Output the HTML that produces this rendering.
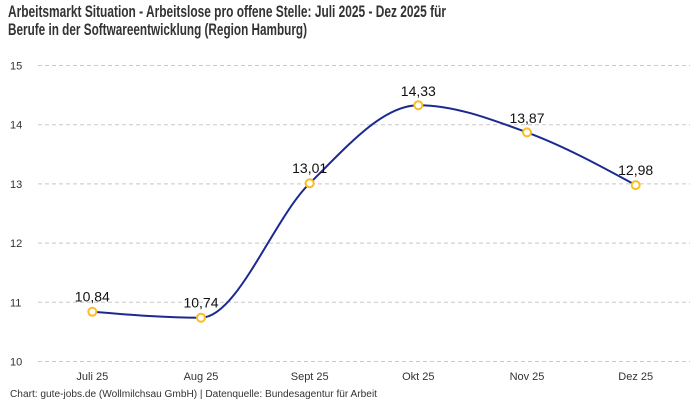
<!DOCTYPE html>
<html>
<head>
<meta charset="utf-8">
<style>
html,body{margin:0;padding:0;background:#fff;}
svg{display:block;}
text{font-family:"Liberation Sans",sans-serif;}
</style>
</head>
<body>
<svg width="700" height="400" viewBox="0 0 700 400" xmlns="http://www.w3.org/2000/svg">
<rect width="700" height="400" fill="#fff"/>
<!-- Title -->
<text x="8" y="17" font-size="17" font-weight="bold" fill="#333" textLength="438" lengthAdjust="spacingAndGlyphs">Arbeitsmarkt Situation - Arbeitslose pro offene Stelle: Juli 2025 - Dez 2025 für</text>
<text x="8" y="35" font-size="17" font-weight="bold" fill="#333" textLength="299" lengthAdjust="spacingAndGlyphs">Berufe in der Softwareentwicklung (Region Hamburg)</text>

<!-- Grid -->
<g stroke="#c8c8c8" stroke-width="1" stroke-dasharray="4,3">
<line x1="38" y1="65.5" x2="690" y2="65.5"/>
<line x1="38" y1="124.7" x2="690" y2="124.7"/>
<line x1="38" y1="183.9" x2="690" y2="183.9"/>
<line x1="38" y1="243.1" x2="690" y2="243.1"/>
<line x1="38" y1="302.3" x2="690" y2="302.3"/>
<line x1="38" y1="361.5" x2="690" y2="361.5"/>
</g>

<!-- Y labels -->
<g font-size="11" fill="#333">
<text x="10" y="69.5">15</text>
<text x="10" y="128.7">14</text>
<text x="10" y="187.9">13</text>
<text x="10" y="247.1">12</text>
<text x="10" y="306.3">11</text>
<text x="10" y="365.5">10</text>
</g>

<!-- X labels -->
<g font-size="11" fill="#333" text-anchor="middle">
<text x="92.3" y="380">Juli 25</text>
<text x="201" y="380">Aug 25</text>
<text x="309.7" y="380">Sept 25</text>
<text x="418.3" y="380">Okt 25</text>
<text x="527" y="380">Nov 25</text>
<text x="635.7" y="380">Dez 25</text>
</g>

<!-- Line -->
<path d="M92.33,311.8 C128.55,314.75 164.78,317.7 201,317.7 C237.22,317.7 273.45,218.72 309.67,183.3 C345.89,147.88 382.11,105.2 418.33,105.2 C454.55,105.2 490.78,119.08 527,132.4 C563.22,145.72 599.45,165.41 635.67,185.1" fill="none" stroke="#1b2a8f" stroke-width="2"/>

<!-- Markers -->
<g fill="#fff" stroke="#fbbd23" stroke-width="2">
<circle cx="92.33" cy="311.8" r="4"/>
<circle cx="201" cy="317.7" r="4"/>
<circle cx="309.67" cy="183.3" r="4"/>
<circle cx="418.33" cy="105.2" r="4"/>
<circle cx="527" cy="132.4" r="4"/>
<circle cx="635.67" cy="185.1" r="4"/>
</g>

<!-- Data labels -->
<g font-size="14" fill="#111" text-anchor="middle">
<text x="92.33" y="301.5">10,84</text>
<text x="201" y="307.5">10,74</text>
<text x="309.67" y="173">13,01</text>
<text x="418.33" y="96">14,33</text>
<text x="527" y="123">13,87</text>
<text x="635.67" y="175">12,98</text>
</g>

<!-- Footer -->
<text x="10" y="397" font-size="10" fill="#333" textLength="367" lengthAdjust="spacingAndGlyphs">Chart: gute-jobs.de (Wollmilchsau GmbH) | Datenquelle: Bundesagentur für Arbeit</text>
</svg>
</body>
</html>
